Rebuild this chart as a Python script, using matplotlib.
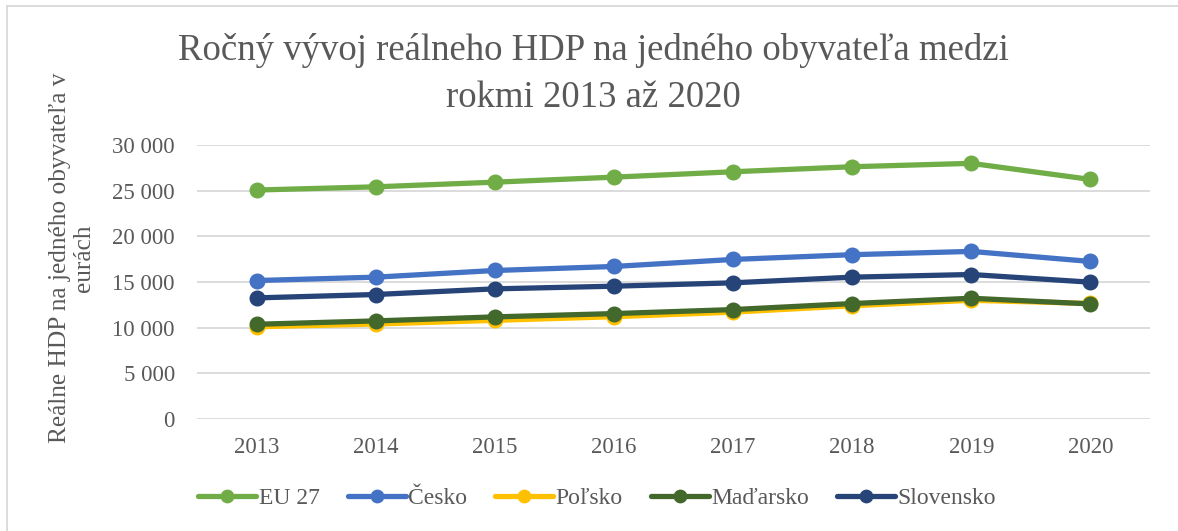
import matplotlib.pyplot as plt
from matplotlib.lines import Line2D
from matplotlib.ticker import FuncFormatter

# roky a hodnoty (reálne HDP na obyvateľa, EUR)
roky = ["2013", "2014", "2015", "2016", "2017", "2018", "2019", "2020"]
eu27 = [25070, 25420, 25930, 26480, 27070, 27620, 27990, 26230]
cesko = [15160, 15530, 16260, 16700, 17470, 17990, 18350, 17250]
polsko = [10100, 10400, 10800, 11200, 11700, 12400, 13000, 12650]
madarsko = [10370, 10740, 11180, 11540, 11980, 12640, 13220, 12600]
slovensko = [13260, 13630, 14250, 14540, 14910, 15530, 15820, 14980]

nazvy = ["EU 27", "Česko", "Poľsko", "Maďarsko", "Slovensko"]
farby = ["#70AD47", "#4472C4", "#FFC000", "#43682B", "#264478"]
serie = [eu27, cesko, polsko, madarsko, slovensko]

plt.rcParams['font.family'] = ['Liberation Serif', 'DejaVu Serif']
sivá = "#595959"

fig = plt.figure(figsize=(11.78, 5.31), dpi=100)
ax = fig.add_axes([197 / 1178, 1 - 419 / 531, (1150 - 197) / 1178, (419 - 145) / 531])

x = list(range(len(roky)))
for hodnoty, nazov, farba in zip(serie, nazvy, farby):
    ax.plot(x, hodnoty, color=farba, lw=3.8, marker="o", markersize=10.5,
            label=nazov, solid_capstyle="round")

ax.set_xlim(-0.5, len(roky) - 0.5)
ax.set_ylim(0, 30000)
ax.set_yticks(range(0, 30001, 5000))
ax.yaxis.set_major_formatter(FuncFormatter(lambda v, p: f"{int(v):,}".replace(",", " ")))
ax.set_xticks(x)
ax.set_xticklabels(roky)
ax.grid(axis="y", color="#D9D9D9", lw=1.3)
ax.set_axisbelow(True)
for s in ax.spines.values():
    s.set_visible(False)
ax.tick_params(length=0, labelsize=16.5, colors=sivá, pad=13)
ax.tick_params(axis="y", pad=16)

fig.text(72 / 1178, 1 - 258 / 531, "Reálne HDP na jedného obyvateľa v\neurách", rotation=90,
         ha="center", va="center", fontsize=18.3, color=sivá, linespacing=1.1)

fig.text(593 / 1178, 1 - 74 / 531,
         "Ročný vývoj reálneho HDP na jedného obyvateľa medzi\nrokmi 2013 až 2020",
         ha="center", va="center", fontsize=26.5, color=sivá, linespacing=1.45)

leg = ax.legend(loc="center", bbox_to_anchor=(0.42, -0.29), ncol=5, frameon=False,
                fontsize=17, handlelength=2.45, handletextpad=0.1, columnspacing=1.2,
                markerscale=0.85)
for t in leg.get_texts():
    t.set_color(sivá)

# rámček grafu
fig.add_artist(Line2D([7 / 1178, 7 / 1178], [0, 1 - 6 / 531], color="#D9D9D9", lw=1.3,
                      transform=fig.transFigure))
fig.add_artist(Line2D([7 / 1178, 1], [1 - 6 / 531, 1 - 6 / 531], color="#D9D9D9", lw=1.3,
                      transform=fig.transFigure))

fig.savefig("out.png", dpi=100)
